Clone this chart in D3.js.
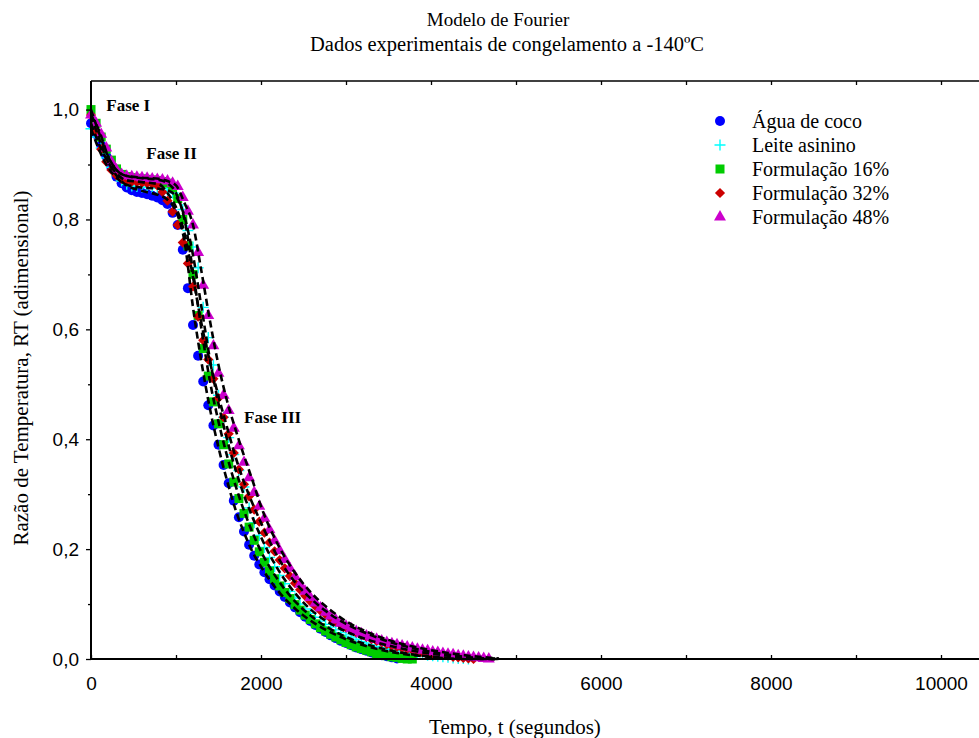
<!DOCTYPE html>
<html>
<head>
<meta charset="utf-8">
<script src="https://cdn.jsdelivr.net/npm/d3@7"></script>
<style>
  body { margin: 0; background: #fff; }
  text { fill: #000; }
</style>
</head>
<body>
<div id="chart"></div>
<script>
// tempos de leitura (s)
const tempo = [0,60,120,180,240,300,360,420,480,540,600,660,720,780,840,900,960,1020,1080,1140,
  1200,1260,1320,1380,1440,1500,1560,1620,1680,1740,1800,1860,1920,1980,2040,2100,2160,2220,2280,2340,
  2400,2460,2520,2580,2640,2700,2760,2820,2880,2940,3000,3060,3120,3180,3240,3300,3360,3420,3480,3540,
  3600,3660,3720,3780,3840,3900,3960,4020,4080,4140,4200,4260,4320,4380,4440,4500,4560,4620,4680]

// razão de temperatura experimental
const aguaCoco = [0.975,0.955,0.935,0.915,0.895,0.878,0.866,0.858,0.853,0.850,
  0.848,0.846,0.843,0.840,0.835,0.828,0.812,0.790,0.745,0.675,
  0.608,0.552,0.505,0.462,0.425,0.390,0.353,0.320,0.288,0.258,
  0.232,0.208,0.188,0.172,0.158,0.145,0.134,0.123,0.113,0.103,
  0.094,0.085,0.077,0.069,0.062,0.055,0.049,0.043,0.038,0.033,
  0.029,0.025,0.021,0.018,0.015,0.012,0.009,0.007,0.005,0.003,
  0.001]
const leiteAsinino = [0.965,0.950,0.930,0.912,0.895,0.880,0.870,0.864,0.861,0.860,
  0.859,0.858,0.858,0.857,0.856,0.853,0.848,0.840,0.818,0.780,
  0.750,0.712,0.640,0.585,0.535,0.480,0.440,0.403,0.372,0.343,
  0.313,0.275,0.248,0.225,0.203,0.185,0.168,0.152,0.137,0.123,
  0.111,0.100,0.091,0.083,0.076,0.069,0.063,0.058,0.053,0.048,
  0.044,0.040,0.036,0.032,0.029,0.026,0.023,0.021,0.019,0.017,
  0.015,0.013,0.012,0.010,0.009,0.008,0.007,0.006,0.005,0.004,
  0.003,0.002,0.001,0.001,0.000]
const form16 = [1.000,0.975,0.950,0.928,0.908,0.892,0.882,0.878,0.876,0.875,
  0.874,0.873,0.872,0.871,0.869,0.866,0.858,0.838,0.800,0.752,
  0.700,0.625,0.565,0.515,0.468,0.428,0.390,0.355,0.322,0.292,
  0.265,0.240,0.216,0.195,0.176,0.160,0.146,0.133,0.121,0.110,
  0.099,0.089,0.080,0.072,0.064,0.057,0.051,0.045,0.040,0.035,
  0.030,0.026,0.022,0.019,0.016,0.013,0.010,0.008,0.006,0.004,
  0.003,0.001,0.000,0.000]
const form32 = [0.990,0.960,0.928,0.905,0.890,0.880,0.874,0.871,0.869,0.868,
  0.867,0.866,0.865,0.862,0.850,0.834,0.814,0.790,0.758,0.720,
  0.678,0.623,0.580,0.545,0.510,0.475,0.440,0.410,0.375,0.345,
  0.318,0.296,0.272,0.250,0.230,0.212,0.196,0.180,0.165,0.151,
  0.138,0.126,0.115,0.105,0.096,0.088,0.081,0.074,0.068,0.062,
  0.057,0.052,0.048,0.044,0.040,0.036,0.033,0.030,0.027,0.024,
  0.022,0.020,0.018,0.016,0.014,0.012,0.011,0.009,0.008,0.007,
  0.006,0.004,0.003,0.002,0.001,0.000]
const form48 = [0.990,0.975,0.955,0.930,0.905,0.890,0.882,0.879,0.878,0.877,
  0.876,0.875,0.874,0.873,0.872,0.870,0.866,0.860,0.840,0.815,
  0.790,0.740,0.680,0.625,0.570,0.520,0.480,0.452,0.420,0.388,
  0.358,0.330,0.303,0.278,0.256,0.235,0.215,0.197,0.181,0.165,
  0.150,0.136,0.123,0.112,0.102,0.093,0.085,0.078,0.071,0.065,
  0.060,0.055,0.050,0.046,0.042,0.039,0.036,0.033,0.030,0.028,
  0.026,0.024,0.022,0.020,0.018,0.016,0.015,0.013,0.012,0.010,
  0.009,0.008,0.006,0.005,0.004,0.003,0.002,0.001,0.000]

// curvas do modelo de Fourier (tracejadas)
const tempoModelo = [0,100,200,300,400,600,800,900,1000,1100,1200,1300,1400,1500,1600,1700,1800,1900,2000,
  2200,2400,2600,2800,3000,3300,3600,3900,4200,4500,4800]
const modeloCoco = [0.975,0.935,0.905,0.880,0.864,0.852,0.844,0.836,0.815,0.760,0.640,0.540,0.455,0.385,0.325,0.272,0.230,0.195,0.168,
  0.124,0.092,0.068,0.050,0.036,0.021,0.011,0.005,0.001,0,0]
const modeloLeite = [0.965,0.925,0.895,0.876,0.864,0.858,0.856,0.853,0.842,0.805,0.735,0.640,0.545,0.465,0.400,0.345,0.298,0.258,0.222,
  0.163,0.120,0.088,0.066,0.050,0.033,0.021,0.012,0.006,0.002,0]
const modelo16 = [1.0,0.955,0.915,0.890,0.880,0.875,0.872,0.866,0.848,0.800,0.705,0.600,0.505,0.432,0.370,0.316,0.270,0.230,0.196,
  0.144,0.105,0.077,0.056,0.040,0.024,0.013,0.006,0.002,0,0]
const modelo32 = [0.99,0.945,0.905,0.884,0.872,0.868,0.864,0.848,0.822,0.775,0.695,0.610,0.540,0.478,0.422,0.368,0.322,0.283,0.248,
  0.185,0.140,0.108,0.083,0.064,0.043,0.027,0.016,0.008,0.002,0]
const modelo48 = [0.99,0.96,0.915,0.890,0.880,0.876,0.874,0.870,0.862,0.830,0.790,0.705,0.615,0.535,0.470,0.418,0.370,0.325,0.278,
  0.208,0.157,0.119,0.091,0.069,0.046,0.030,0.019,0.011,0.005,0.001]

const nomes = ["Água de coco", "Leite asinino", "Formulação 16%", "Formulação 32%", "Formulação 48%"]
const xTicks = [0, 2000, 4000, 6000, 8000, 10000]
const yTicks = [0, 0.2, 0.4, 0.6, 0.8, 1.0]
const fases = [
  { label: "Fase I", t: 180, rt: 0.997 },
  { label: "Fase II", t: 650, rt: 0.910 },
  { label: "Fase III", t: 1800, rt: 0.430 }
]

const series = [
  { nome: nomes[0], rt: aguaCoco, cor: "#0000ff", simbolo: "circle" },
  { nome: nomes[1], rt: leiteAsinino, cor: "#00ffff", simbolo: "plus" },
  { nome: nomes[2], rt: form16, cor: "#00cc00", simbolo: "square" },
  { nome: nomes[3], rt: form32, cor: "#cc0000", simbolo: "diamond" },
  { nome: nomes[4], rt: form48, cor: "#cc00cc", simbolo: "triangle" }
]
const modelos = [modeloCoco, modeloLeite, modelo16, modelo32, modelo48]

const width = 979
const height = 738
const mLeft = 91
const mTop = 81
const mBottom = 659

const x = d3.scaleLinear().domain([0, 10500]).range([mLeft, mLeft + 10500 * 0.085])
const y = d3.scaleLinear().domain([0, 1.052]).range([mBottom, mTop])

const svg = d3.select("#chart")
  .append("svg")
  .attr("width", width)
  .attr("height", height)

const serif = "'Liberation Serif', 'Times New Roman', serif"
const sans = "'Liberation Sans', Arial, sans-serif"

// título
svg.append("text")
  .attr("x", 498).attr("y", 26)
  .attr("text-anchor", "middle")
  .style("font-family", serif).style("font-size", "19px")
  .text("Modelo de Fourier")
svg.append("text")
  .attr("x", 507).attr("y", 51)
  .attr("text-anchor", "middle")
  .style("font-family", serif).style("font-size", "20.5px")
  .text("Dados experimentais de congelamento a -140ºC")

function marcador(g, simbolo, cor) {
  if (simbolo === "circle") {
    g.append("circle").attr("r", 5).attr("fill", cor)
  } else if (simbolo === "plus") {
    g.append("path").attr("d", "M-5.5,0H5.5M0,-5.5V5.5").attr("stroke", cor).attr("stroke-width", 1.4).attr("fill", "none")
  } else if (simbolo === "square") {
    g.append("rect").attr("x", -4.5).attr("y", -4.5).attr("width", 9).attr("height", 9).attr("fill", cor)
  } else if (simbolo === "diamond") {
    g.append("path").attr("d", d3.symbol(d3.symbolSquare, 52)()).attr("transform", "rotate(45)").attr("fill", cor)
  } else {
    g.append("path").attr("d", d3.symbol(d3.symbolTriangle, 62)()).attr("fill", cor)
  }
}

// pontos experimentais
series.forEach(s => {
  const pts = s.rt.map((v, i) => ({ t: tempo[i], v: v }))
  svg.append("g")
    .selectAll("g")
    .data(pts)
    .enter()
    .append("g")
    .attr("transform", d => `translate(${x(d.t)},${y(d.v)})`)
    .each(function () { marcador(d3.select(this), s.simbolo, s.cor) })
})

// modelo
const linha = d3.line()
  .x((d, i) => x(tempoModelo[i]))
  .y(d => y(d))
  .curve(d3.curveMonotoneX)

svg.append("g")
  .selectAll("path")
  .data(modelos)
  .enter()
  .append("path")
  .attr("d", d => linha(d))
  .attr("fill", "none")
  .attr("stroke", "#000")
  .attr("stroke-width", 2.6)
  .attr("stroke-dasharray", "7,4")

// eixos
const fmt = d => d.toFixed(1).replace(".", ",")

const eixoY = svg.append("g")
  .attr("transform", `translate(${mLeft},0)`)
  .call(d3.axisLeft(y).tickValues(yTicks).tickFormat(fmt).tickSize(5).tickPadding(7))
eixoY.select(".domain").remove()
eixoY.selectAll("text").style("font-family", sans).style("font-size", "19px")

svg.append("g")
  .attr("transform", `translate(${mLeft},0)`)
  .call(d3.axisLeft(y).tickValues([0.1, 0.3, 0.5, 0.7, 0.9]).tickFormat("").tickSize(3))
  .select(".domain").remove()

const eixoX = svg.append("g")
  .attr("transform", `translate(0,${mBottom})`)
  .call(d3.axisBottom(x).tickValues(xTicks).tickFormat(d3.format("d")).tickSize(-4).tickPadding(18))
eixoX.select(".domain").remove()
eixoX.selectAll("text").style("font-family", sans).style("font-size", "19px")

svg.append("g")
  .attr("transform", `translate(0,${mBottom})`)
  .call(d3.axisBottom(x).tickValues([1000, 3000, 5000, 7000, 9000]).tickFormat("").tickSize(-4))
  .select(".domain").remove()

svg.append("g")
  .attr("transform", `translate(0,${mTop})`)
  .call(d3.axisTop(x).tickValues(d3.range(1000, 11000, 1000)).tickFormat("").tickSize(-4))
  .select(".domain").remove()

svg.selectAll(".tick line").attr("stroke", "#000").attr("stroke-width", 1.3)

// moldura
svg.append("line").attr("x1", mLeft).attr("x2", width).attr("y1", mBottom).attr("y2", mBottom)
  .attr("stroke", "#000").attr("stroke-width", 2)
svg.append("line").attr("x1", mLeft).attr("x2", width).attr("y1", mTop).attr("y2", mTop)
  .attr("stroke", "#000").attr("stroke-width", 1.6)
svg.append("line").attr("x1", mLeft).attr("x2", mLeft).attr("y1", mTop).attr("y2", mBottom)
  .attr("stroke", "#000").attr("stroke-width", 2)

// títulos dos eixos
svg.append("text")
  .attr("x", 515).attr("y", 734)
  .attr("text-anchor", "middle")
  .style("font-family", serif).style("font-size", "21px")
  .text("Tempo, t (segundos)")
svg.append("text")
  .attr("transform", `translate(28,${(mTop + mBottom) / 2 - 2}) rotate(-90)`)
  .attr("text-anchor", "middle")
  .style("font-family", serif).style("font-size", "21px")
  .text("Razão de Temperatura, RT (adimensional)")

// fases
svg.append("g")
  .selectAll("text")
  .data(fases)
  .enter()
  .append("text")
  .attr("x", d => x(d.t))
  .attr("y", d => y(d.rt))
  .style("font-family", serif).style("font-size", "17px").style("font-weight", "bold")
  .text(d => d.label)

// legenda
const leg = svg.append("g").attr("transform", "translate(720,121)")
series.forEach((s, i) => {
  const row = leg.append("g").attr("transform", `translate(0,${i * 24})`)
  marcador(row, s.simbolo, s.cor)
  row.append("text")
    .attr("x", 32).attr("y", 7)
    .style("font-family", serif).style("font-size", "20px")
    .text(s.nome)
})
</script>
</body>
</html>
